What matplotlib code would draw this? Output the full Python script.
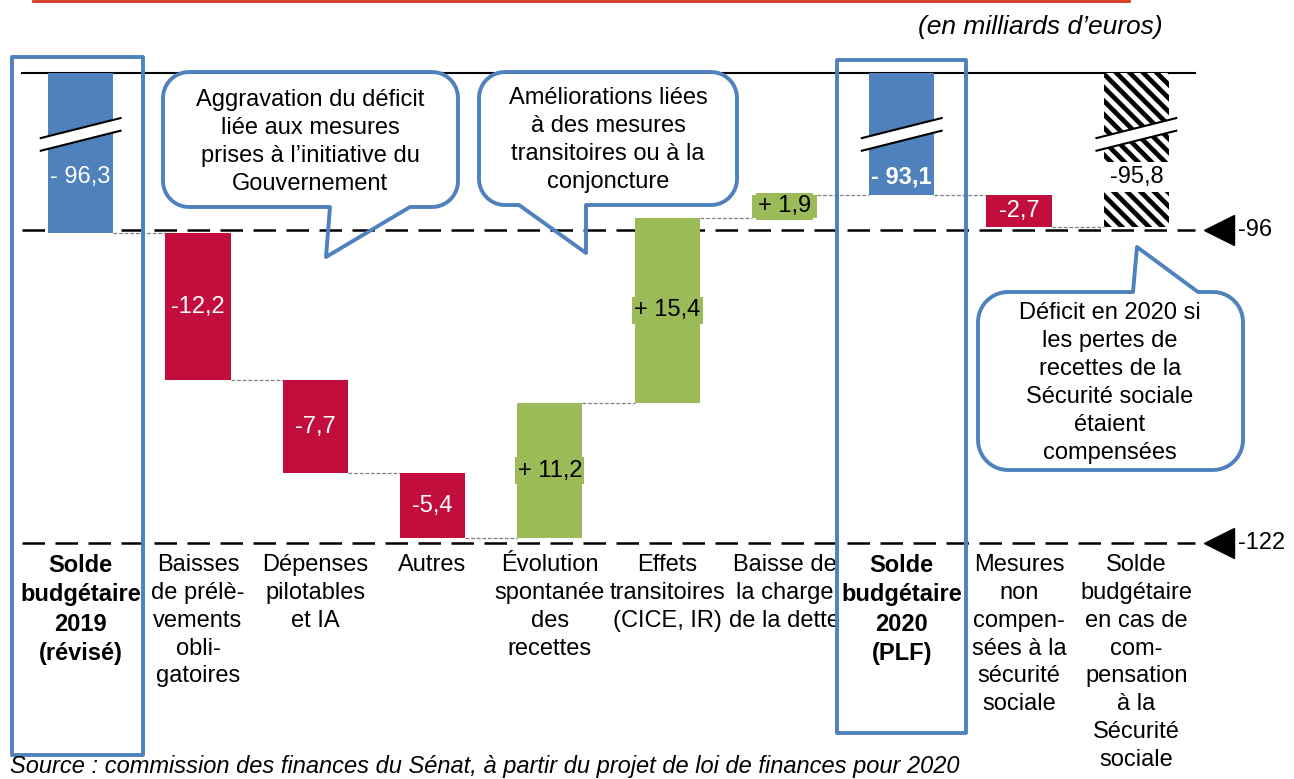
import numpy as np
import matplotlib
matplotlib.use("Agg")
import matplotlib.pyplot as plt
from matplotlib.patches import Polygon, Rectangle
from matplotlib.transforms import blended_transform_factory, IdentityTransform

plt.rcParams["font.family"] = ["Liberation Sans", "DejaVu Sans"]

# --- data -----------------------------------------------------------------
categories = [
    "Solde\nbudgétaire\n2019\n(révisé)",
    "Baisses\nde prélè-\nvements\nobli-\ngatoires",
    "Dépenses\npilotables\net IA",
    "Autres",
    "Évolution\nspontanée\ndes\nrecettes",
    "Effets\ntransitoires\n(CICE, IR)",
    "Baisse de\nla charge\nde la dette",
    "Solde\nbudgétaire\n2020\n(PLF)",
    "Mesures\nnon\ncompen-\nsées à la\nsécurité\nsociale",
    "Solde\nbudgétaire\nen cas de\ncom-\npensation\nà la\nSécurité\nsociale",
]
values = [-96.3, -12.2, -7.7, -5.4, 11.2, 15.4, 1.9, -93.1, -2.7, -95.8]
kinds = ["total", "delta", "delta", "delta", "delta", "delta", "delta",
         "total", "delta", "alt"]
value_labels = ["- 96,3", "-12,2", "-7,7", "-5,4", "+ 11,2", "+ 15,4",
                "+ 1,9", "- 93,1", "-2,7", "-95,8"]
ref_levels = [-96, -122]
ref_labels = ["-96", "-122"]
axis_top = -83.0  # axis is broken: totals are cut at this level

bubble_texts = [
    "Aggravation du déficit\nliée aux mesures\nprises à l\u2019initiative du\nGouvernement",
    "Améliorations liées\nà des mesures\ntransitoires ou à la\nconjoncture",
    "Déficit en 2020 si\nles pertes de\nrecettes de la\nSécurité sociale\nétaient\ncompensées",
]

BLUE = "#4F81BD"
RED = "#C20E3D"
GREEN = "#9BBB59"
FS = 17

# --- waterfall geometry ---------------------------------------------------
bottoms, heights, ends, colors = [], [], [], []
level = 0.0
for v, k in zip(values, kinds):
    if k in ("total", "alt"):
        bottoms.append(v)
        heights.append(axis_top - v)
        level = v
        colors.append(BLUE if k == "total" else "white")
    else:
        start = level
        level = level + v
        bottoms.append(min(start, level))
        heights.append(abs(v))
        colors.append(GREEN if v > 0 else RED)
    ends.append(level)

fig = plt.figure(figsize=(12.94, 7.79), dpi=100)
fig.patch.set_facecolor("white")
W, H = 1294, 779
ax = fig.add_axes([22 / W, 1 - 543 / H, 1173 / W, 470 / H])
ax.set_xlim(-0.5, len(values) - 0.5)
ax.set_ylim(-122, axis_top)
ax.axis("off")

x = np.arange(len(values))
bw = 0.556
for i in x:
    bars = ax.bar(i, heights[i], bottom=bottoms[i], width=bw, color=colors[i],
                  linewidth=0, zorder=2)
    if kinds[i] == "alt":
        # black diagonal stripes clipped to the bar
        for c in np.arange(0, W + H, 13.5):
            ln, = ax.plot([c - H, c], [H, 0], color="black", lw=3.4,
                          transform=IdentityTransform(), zorder=2.5)
            ln.set_clip_path(bars.patches[0])

# connectors
for i in range(len(values) - 1):
    ax.plot([i + bw / 2, i + 1 - bw / 2], [ends[i], ends[i]], color="#808080",
            lw=0.9, dashes=(3, 1.5), zorder=1)

# reference lines
ax.axhline(axis_top, color="black", lw=1.5, zorder=1, clip_on=False)
for lv in ref_levels:
    ax.axhline(lv, color="black", lw=1.8, dashes=(9, 4.2), zorder=1.5, clip_on=False)

tr = blended_transform_factory(ax.transAxes, ax.transData)
ax.plot([1.0205] * len(ref_levels), ref_levels, ls="none", marker="<", ms=21,
        color="black", transform=tr, clip_on=False)
for lv, lab in zip(ref_levels, ref_labels):
    ax.text(1.037, lv, lab, transform=tr, ha="left", va="center", fontsize=FS)

# break marks on cut bars + value labels
total_label_y = -91.6
for i in x:
    if kinds[i] in ("total", "alt"):
        y0 = -88.4
        xl, xr = i - 0.34, i + 0.34
        gap = 1.05
        ax.add_patch(Polygon([(xl, y0), (xr, y0 + 1.66), (xr, y0 + 1.66 - gap),
                              (xl, y0 - gap)], closed=True, facecolor="white",
                             edgecolor="none", zorder=3))
        ax.plot([xl, xr], [y0, y0 + 1.66], color="black", lw=1.5, zorder=4)
        ax.plot([xl, xr], [y0 - gap, y0 + 1.66 - gap], color="black", lw=1.5, zorder=4)
        if kinds[i] == "alt":
            ax.bar(i, 2.45, bottom=total_label_y - 1.25, width=bw + 0.02,
                   color="white", linewidth=0, zorder=3)
            ax.text(i, total_label_y, value_labels[i], ha="center", va="center",
                    fontsize=FS, color="black", zorder=5)
        else:
            ax.text(i, total_label_y, value_labels[i], ha="center", va="center",
                    fontsize=FS, color="white", zorder=5,
                    fontweight="bold" if i == 7 else "normal")
    else:
        mid = bottoms[i] + heights[i] / 2
        if values[i] > 0:
            ax.text(i, mid, value_labels[i], ha="center", va="center", fontsize=FS,
                    color="black", zorder=5,
                    bbox=dict(boxstyle="square,pad=0.1", fc=GREEN, ec="none"))
        else:
            ax.text(i, mid, value_labels[i], ha="center", va="center", fontsize=FS,
                    color="white", zorder=5)

# category labels
trc = blended_transform_factory(ax.transData, ax.transAxes)
for i, lab in enumerate(categories):
    ax.text(i, -0.024, lab, transform=trc, ha="center", va="top", fontsize=FS,
            linespacing=1.34, fontweight="bold" if kinds[i] == "total" else "normal")

# --- overlay (pixel coordinates) -----------------------------------------
ov = fig.add_axes([0, 0, 1, 1])
ov.set_xlim(0, W)
ov.set_ylim(H, 0)
ov.axis("off")


def bubble(x0, y0, x1, y1, r, edge, a, b, tip):
    def arc(cx, cy, t0, t1):
        t = np.radians(np.linspace(t0, t1, 12))
        return list(zip(cx + r * np.cos(t), cy + r * np.sin(t)))
    pts = arc(x0 + r, y0 + r, 180, 270)
    if edge == "top":
        pts += [(a, y0), tip, (b, y0)]
    pts += arc(x1 - r, y0 + r, 270, 360)
    pts += arc(x1 - r, y1 - r, 0, 90)
    if edge == "bottom":
        pts += [(b, y1), tip, (a, y1)]
    pts += arc(x0 + r, y1 - r, 90, 180)
    ov.add_patch(Polygon(pts, closed=True, facecolor="none", edgecolor=BLUE,
                         lw=2.8, joinstyle="round"))


bubble(163, 72, 458, 207, 26, "bottom", 330, 410, (326, 257))
bubble(479, 72, 737, 205, 26, "bottom", 519, 586, (586, 253))
bubble(978, 292, 1243, 470, 30, "top", 1133, 1198, (1137, 247))
for (cx, cy), txt in zip([(310, 142), (608, 140), (1110, 383)], bubble_texts):
    ov.text(cx, cy, txt, ha="center", va="center", fontsize=FS, linespacing=1.35)

# highlight frames around the two budget balances
for (fx0, fy0, fx1, fy1) in [(12, 57, 143, 755), (837, 60, 966, 733)]:
    ov.add_patch(Rectangle((fx0, fy0), fx1 - fx0, fy1 - fy0, facecolor="none",
                           edgecolor=BLUE, lw=2.8, joinstyle="round"))

ov.plot([33, 1129], [1, 1], color="#D9381E", lw=2)
ov.text(1163, 27, "(en milliards d\u2019euros)", ha="right", va="center",
        fontsize=19, style="italic")
ov.text(10, 766, "Source : commission des finances du Sénat, à partir du projet "
        "de loi de finances pour 2020", ha="left", va="center", fontsize=FS,
        style="italic")

fig.savefig("out.png", dpi=100, facecolor="white")
